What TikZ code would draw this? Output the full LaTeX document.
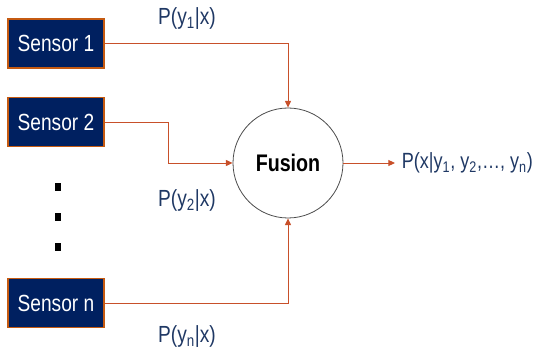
\documentclass[tikz,border=0pt]{standalone}
\usepackage{fontspec}
\setmainfont{Liberation Sans}[FakeStretch=0.82]
\usepackage{tikz}
\usetikzlibrary{positioning,calc,arrows.meta}
\definecolor{navy}     {HTML}{002060}
\definecolor{rust}     {HTML}{C55A11}
\definecolor{wire}     {HTML}{C8502A}
\definecolor{labelblue}{HTML}{1F3864}
\tikzset{
  >={Triangle[length=5pt,width=4.5pt]},
  every node/.style={font=\fontsize{17.5}{20}\selectfont},
  % --- nodes
  sensor/.style = {draw=rust, fill=navy, text=white, line width=0.8pt,
                   minimum width=72pt, minimum height=36.75pt, inner sep=0pt},
  fuse/.style   = {circle, draw=black!70, fill=white, line width=0.6pt,
                   minimum size=82.5pt, inner sep=0pt,
                   font=\fontsize{18}{20}\selectfont\bfseries},
  prob/.style   = {text=labelblue, inner sep=1pt},
  dotmark/.style= {fill=black, minimum width=4pt, minimum height=5.5pt, inner sep=0pt},
  % --- edges
  e/.style      = {->, draw=wire, line width=0.7pt},
}
\begin{document}
\begin{tikzpicture}[x=0.75pt,y=-0.75pt]
  \useasboundingbox (0,0) rectangle (539,356);

  \node[sensor] (s1) at (56,43.5) {Sensor 1};
  \node[sensor] (s2) at (56,122)  {Sensor 2};
  \node[sensor] (sn) at (56,303)  {Sensor n};
  \foreach \i/\y in {1/187,2/217,3/247}
    \node[dotmark] (dot\i) at (58,\y) {};

  \node[fuse] (fusion) at (288,163) {Fusion};

  \node[prob] (p1) at (187,19)  {P(y\textsubscript{1}|x)};
  \node[prob] (p2) at (187,201) {P(y\textsubscript{2}|x)};
  \node[prob] (pn) at (187,337) {P(y\textsubscript{n}|x)};

  \coordinate (bend2) at (168,122);
  \coordinate (out)   at (395,163);

  \draw[e] (s1.east) -| (fusion.north);
  \draw[e] (s2.east) -- (bend2) |- (fusion.west);
  \draw[e] (sn.east) -| (fusion.south);
  \draw[e] (fusion.east) -- (out);

  \node[prob, anchor=west, xshift=4pt, font=\fontsize{16.5}{20}\selectfont] (post) at (out)
       {P(x|y\textsubscript{1}, y\textsubscript{2},…, y\textsubscript{n})};
\end{tikzpicture}
\end{document}
